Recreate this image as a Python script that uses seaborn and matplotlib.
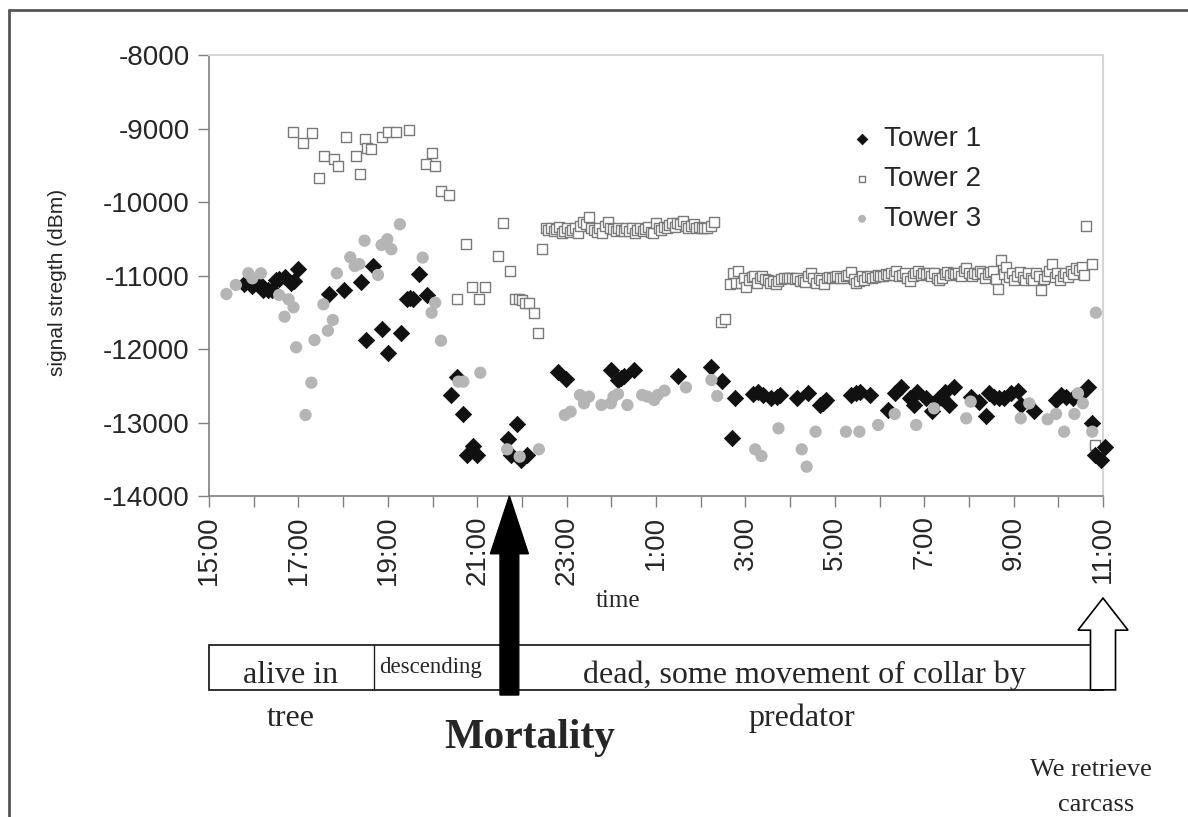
import matplotlib
matplotlib.use('Agg')
import matplotlib.pyplot as plt
from matplotlib.patches import Rectangle, FancyArrow
from matplotlib.lines import Line2D
import seaborn as sns
import pandas as pd

# hours elapsed since 15:00, and signal strength (dBm)
t1_hours = [0.79, 0.97, 1.12, 1.20, 1.31, 1.41, 1.50, 1.57, 1.69, 1.84, 1.91, 1.98,
            2.68, 3.01, 3.39, 3.51, 3.67, 3.87, 4.01, 4.29, 4.42, 4.49, 4.56, 4.70, 4.87,
            5.41, 5.54, 5.69, 5.77, 5.90, 6.00, 6.68, 6.76, 6.89, 6.97, 7.11,
            7.81, 7.98, 9.00, 9.14, 9.22, 9.29, 9.50, 10.49, 11.24, 11.47, 11.69, 11.77,
            12.17, 12.28, 12.39, 12.58, 12.70, 12.77, 13.16, 13.39, 13.67, 13.74, 13.80,
            14.37, 14.47, 14.57, 14.79, 15.19, 15.34, 15.47, 15.69, 15.77, 15.84,
            16.03, 16.18, 16.29, 16.40, 16.46, 16.55, 16.66, 17.04, 17.22, 17.39, 17.45,
            17.56, 17.67, 17.79, 17.94, 18.09, 18.16, 18.46, 18.95, 19.06, 19.18, 19.33,
            19.48, 19.66, 19.76, 19.81, 19.96, 20.05]
t1_dbm = [-11116, -11143, -11098, -11197, -11197, -11197, -11065, -11050, -11016, -11106, -11070, -10916,
          -11256, -11197, -11084, -11878, -10866, -11732, -12059, -11786, -11324, -11300, -11324, -10984, -11265,
          -12626, -12377, -12884, -13447, -13320, -13447, -13229, -13447, -13020, -13510, -13442,
          -12308, -12412, -12286, -12422, -12390, -12367, -12286, -12367, -12249, -12437, -13215, -12671,
          -12612, -12580, -12626, -12671, -12650, -12626, -12671, -12594, -12762, -12730, -12694,
          -12626, -12603, -12580, -12626, -12830, -12603, -12512, -12671, -12762, -12580,
          -12671, -12839, -12694, -12671, -12580, -12762, -12512, -12648, -12716, -12912, -12603,
          -12648, -12671, -12671, -12603, -12567, -12762, -12839, -12694, -12626, -12648, -12671,
          -12626, -12512, -13011, -13442, -13510, -13329]

t2_hours = [1.89, 2.10, 2.31, 2.46, 2.58, 2.79, 2.88, 3.07, 3.28, 3.37, 3.50, 3.54, 3.63,
            3.86, 4.01, 4.19, 4.48, 4.85, 4.98, 5.06, 5.18, 5.38,
            5.54, 5.75, 5.88, 6.05, 6.17, 6.46, 6.57, 6.74, 6.85, 6.93, 7.00, 7.08, 7.16,
            7.27, 7.36, 7.44,
            7.53, 7.59, 7.65, 7.71, 7.77, 7.83, 7.89, 7.95, 8.01, 8.07, 8.13, 8.19, 8.25,
            8.31, 8.37, 8.43, 8.49, 8.55, 8.61, 8.67, 8.73, 8.79, 8.85, 8.92, 8.98, 9.04,
            9.10, 9.16, 9.22, 9.28, 9.34, 9.40, 9.46, 9.52, 9.58, 9.64, 9.70, 9.76, 9.82,
            9.88, 9.94, 10.00, 10.06, 10.12, 10.18, 10.24, 10.30, 10.36, 10.42, 10.48,
            10.54, 10.60, 10.66, 10.72, 10.78, 10.84, 10.90, 10.96, 11.02, 11.08, 11.14,
            11.22, 11.30,
            11.45, 11.54,
            11.65, 11.72, 11.78, 11.84, 11.90, 11.96, 12.02, 12.08, 12.14, 12.20, 12.26,
            12.32, 12.38, 12.44, 12.50, 12.56, 12.62, 12.68, 12.74, 12.80, 12.86, 12.92,
            12.98, 13.04, 13.10, 13.16, 13.22, 13.28, 13.34, 13.40, 13.46, 13.52, 13.58,
            13.64, 13.70, 13.76, 13.82, 13.88, 13.94, 14.00, 14.06, 14.12, 14.18, 14.24,
            14.30, 14.36, 14.42, 14.48, 14.54, 14.60, 14.66, 14.72, 14.78, 14.84, 14.90,
            14.96, 15.02, 15.08, 15.14, 15.20, 15.26, 15.32, 15.38, 15.44, 15.50, 15.56,
            15.62, 15.68, 15.74, 15.80, 15.86, 15.92, 15.98, 16.04, 16.10, 16.16, 16.22,
            16.28, 16.34, 16.40, 16.46, 16.52, 16.58, 16.64, 16.70, 16.76, 16.82, 16.88,
            16.94, 17.00, 17.06, 17.12, 17.18, 17.24, 17.30, 17.36, 17.42, 17.48, 17.54,
            17.60, 17.66, 17.72, 17.78, 17.84, 17.90, 17.96, 18.02, 18.08, 18.14, 18.20,
            18.26, 18.32, 18.38, 18.44, 18.50, 18.56, 18.62, 18.68, 18.74, 18.80, 18.86,
            18.92, 18.98, 19.04, 19.10, 19.16, 19.22, 19.28, 19.34, 19.40, 19.46, 19.52,
            19.58, 19.63, 19.76, 19.81]
t2_dbm = [-9043, -9202, -9066, -9678, -9374, -9420, -9510, -9111, -9374, -9624, -9147, -9270, -9283,
          -9111, -9043, -9043, -9020, -9487, -9329, -9510, -9846, -9909,
          -11315, -10571, -11152, -11315, -11152, -10735, -10290, -10943, -11315, -11315, -11330, -11370, -11379,
          -11515, -11787, -10643,
          -10360, -10380, -10350, -10400, -10370, -10340, -10420, -10390, -10360, -10410, -10380, -10350, -10420,
          -10330, -10270, -10300, -10210, -10360, -10380, -10410, -10350, -10420, -10320, -10270, -10350, -10370,
          -10400, -10350, -10380, -10400, -10360, -10390, -10350, -10420, -10380, -10350, -10400, -10370, -10340,
          -10410, -10420, -10280, -10350, -10380, -10340, -10360, -10310, -10290, -10340, -10280,
          -10300, -10260, -10320, -10350, -10330, -10300, -10350, -10340, -10350, -10360, -10350,
          -10330, -10270,
          -11630, -11590,
          -11110, -10970, -11100, -10940, -11100, -11040, -11150, -11060, -11020, -11000, -11100,
          -11040, -11010, -11050, -11060, -11100, -11080, -11110, -11070, -11050, -11040, -11040,
          -11040, -11040, -11050, -11040, -11080, -11060, -11090, -11000, -10960, -11040, -11100,
          -11040, -11060, -11110, -11040, -11020, -11030, -11020, -11010, -11030, -11040, -11010,
          -10990, -10950, -11050, -11100, -11080, -11000, -11060, -11020, -11000, -11030, -11020,
          -10990, -11000, -11000, -10980, -10990, -10960, -10990, -10940, -11000, -10990, -10960,
          -11040, -11080, -11010, -10960, -10940, -10990, -10960, -10980, -10960, -11000, -10970,
          -11030, -11060, -11040, -10980, -10950, -10990, -10960, -10980, -10960, -11000, -10940,
          -10900, -10960, -11000, -10960, -10980, -10940, -10960, -11040, -10980, -10950, -10940,
          -11050, -11180, -10790, -10980, -10880, -11020, -10960, -11060, -11000, -10950, -11020,
          -11060, -10960, -11040, -11060, -10960, -11000, -11200, -11050, -11000, -10940, -10840,
          -11020, -10960, -11060, -11000, -10970, -11020, -10940, -10980, -10900, -10920, -10880,
          -10990, -10330, -10850, -13300]

t3_hours = [0.39, 0.60, 0.88, 0.97, 1.16, 1.57, 1.69, 1.78, 1.89, 1.95, 2.16, 2.29, 2.36,
            2.56, 2.66, 2.77, 2.86, 3.16, 3.26, 3.36, 3.48, 3.78, 3.86, 3.99, 4.08, 4.27,
            4.78, 4.98, 5.06, 5.19, 5.58, 5.69, 6.07, 6.67, 6.95, 7.38, 7.96, 8.09, 8.30,
            8.39, 8.50, 8.78, 8.99, 9.05, 9.15, 9.36, 9.69, 9.81, 9.96, 10.04, 10.19, 10.67,
            11.24, 11.37, 12.22, 12.36, 12.74, 13.26, 13.37, 13.57, 14.25, 14.55, 14.97,
            15.34, 15.82, 16.22, 16.94, 17.04, 18.16, 18.35, 18.76, 18.95, 19.13, 19.36,
            19.44, 19.55, 19.76, 19.84]
t3_dbm = [-11252, -11129, -10970, -11038, -10970, -11265, -11560, -11324, -11433, -11977, -12898, -12458, -11878,
          -11392, -11751, -11605, -10970, -10752, -10871, -10844, -10526, -10993, -10585, -10507, -10643, -10303,
          -10757, -11506, -11370, -11887, -12444, -12444, -12322, -13365, -13465, -13365, -12898, -12853, -12626,
          -12739, -12648, -12762, -12739, -12648, -12612, -12762, -12626, -12648, -12694, -12626, -12567, -12522,
          -12422, -12639, -13365, -13456, -13079, -13365, -13601, -13125, -13125, -13125, -13034,
          -12884, -13034, -12807, -12943, -12716, -12943, -12739, -12957, -12884, -13125, -12884,
          -12603, -12739, -13125, -11506]

y_ticks = [-14000, -13000, -12000, -11000, -10000, -9000, -8000]
clock_labels = ['15:00', '17:00', '19:00', '21:00', '23:00', '1:00', '3:00',
                '5:00', '7:00', '9:00', '11:00']
mortality_hour = 6.72
retrieve_hour = 20.0
descend_hour = 3.70

sns.set_style('ticks')
plt.rcParams['font.family'] = ['Liberation Sans', 'DejaVu Sans']

fig = plt.figure(figsize=(11.88, 8.17), dpi=100)
L, W = 209 / 1188, 894 / 1188
B, H = 1 - 496 / 817, 441 / 817
ax = fig.add_axes([L, B, W, H])

df1 = pd.DataFrame({'hours': t1_hours, 'dbm': t1_dbm})
df2 = pd.DataFrame({'hours': t2_hours, 'dbm': t2_dbm})
df3 = pd.DataFrame({'hours': t3_hours, 'dbm': t3_dbm})

sns.scatterplot(data=df1, x='hours', y='dbm', ax=ax, marker='D', s=68, color='#111111',
                edgecolor='#111111', linewidth=0.6, label='Tower 1', clip_on=False, zorder=3)
sns.scatterplot(data=df2, x='hours', y='dbm', ax=ax, marker='s', s=45, facecolor='white',
                edgecolor='#7a7a7a', linewidth=1.0, label='Tower 2', clip_on=False, zorder=2)
sns.scatterplot(data=df3, x='hours', y='dbm', ax=ax, marker='o', s=78, color='#b5b5b5',
                edgecolor='none', linewidth=0, label='Tower 3', clip_on=False, zorder=4)

ax.set_xlim(0, 20)
ax.set_ylim(-14000, -8000)
ax.set_yticks(y_ticks)
ax.set_yticklabels([str(v) for v in y_ticks], fontsize=20)
ax.set_xticks(range(0, 21))
ax.set_xticklabels([clock_labels[i // 2] if i % 2 == 0 else '' for i in range(21)],
                   rotation=90, fontsize=20)
ax.tick_params(axis='both', direction='out', length=8, width=1.0, color='#808080', pad=6)
for side in ['left', 'bottom']:
    ax.spines[side].set_color('#808080')
    ax.spines[side].set_linewidth(1.2)
for side in ['top', 'right']:
    ax.spines[side].set_visible(True)
    ax.spines[side].set_color('#d6d6d6')
    ax.spines[side].set_linewidth(1.5)

ax.set_ylabel('signal stregth (dBm)', fontsize=15)
ax.yaxis.set_label_coords(-0.159, 0.485)
ax.set_xlabel('time', fontsize=18, family=['Liberation Serif'])
ax.xaxis.set_label_coords(0.4575, -0.213)

leg = ax.legend(loc='upper left', bbox_to_anchor=(0.687, 0.895), frameon=False, fontsize=20,
                markerscale=0.65, handletextpad=0.3, labelspacing=0.5, handlelength=1.0)

# timeline below the axis
ax_t = fig.add_axes([L, 0, W, B])
ax_t.set_xlim(0, 20)
ax_t.set_ylim(1, 0)
ax_t.axis('off')
serif = ['Liberation Serif', 'DejaVu Serif']
ax_t.add_patch(Rectangle((0, 0.464), 20, 0.14, fill=False, edgecolor='#222222', lw=1.3, clip_on=False))
ax_t.plot([descend_hour, descend_hour], [0.464, 0.604], color='#222222', lw=1.0, clip_on=False)
ax_t.add_patch(FancyArrow(mortality_hour, 0.62, 0, -0.62, width=0.42, head_width=0.85,
                          head_length=0.18, length_includes_head=True, color='black',
                          clip_on=False, zorder=5))
ax_t.add_patch(FancyArrow(retrieve_hour, 0.604, 0, -0.286, width=0.56, head_width=1.12,
                          head_length=0.1, length_includes_head=True, facecolor='white',
                          edgecolor='black', lw=1.2, clip_on=False, zorder=5))
ax_t.text(1.82, 0.558, 'alive in', ha='center', va='center', fontsize=23, family=serif)
ax_t.text(1.82, 0.692, 'tree', ha='center', va='center', fontsize=23, family=serif)
ax_t.text(4.95, 0.533, 'descending', ha='center', va='center', fontsize=16.5, family=serif)
ax_t.text(13.31, 0.558, 'dead, some movement of collar by', ha='center', va='center',
          fontsize=23, family=serif)
ax_t.text(13.27, 0.692, 'predator', ha='center', va='center', fontsize=23, family=serif)
ax_t.text(7.18, 0.754, 'Mortality', ha='center', va='center', fontsize=30, fontweight='bold',
          family=serif)
ax_t.text(19.73, 0.854, 'We retrieve', ha='center', va='center', fontsize=19, family=serif)
ax_t.text(19.84, 0.963, 'carcass', ha='center', va='center', fontsize=19, family=serif)

# page frame
fig.add_artist(Line2D([9 / 1188, 1], [1 - 10 / 817, 1 - 10 / 817], color='#555555', lw=2,
                      transform=fig.transFigure))
fig.add_artist(Line2D([9 / 1188, 9 / 1188], [0, 1 - 10 / 817], color='#555555', lw=2,
                      transform=fig.transFigure))

fig.savefig('out.png', dpi=100)
